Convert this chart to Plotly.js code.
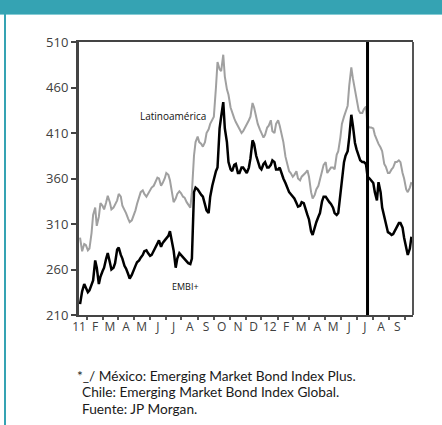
<!DOCTYPE html>
<html>
<head>
<meta charset="utf-8">
<script src="https://cdn.plot.ly/plotly-3.0.1.min.js"></script>
<style>
  html, body { margin: 0; padding: 0; background: #fff; overflow: hidden; }
  #chart { position: absolute; left: 0; top: 0; width: 442px; height: 425px; }
  .band { position: absolute; left: 0; top: 0; width: 442px; height: 14px; background: #35a3b3; border-bottom: 1px solid #86ccd5; z-index: 2; }
  .rule { position: absolute; left: 4px; top: 14px; width: 2px; height: 411px; background: #35a3b3; z-index: 2; }
</style>
</head>
<body>
<div id="chart"></div>
<div class="band"></div>
<div class="rule"></div>
<script>
// Twice-weekly observations (Tuesday and Friday), spreads in basis points
const dates = [
  "2011-01-03","2011-01-07","2011-01-11","2011-01-14","2011-01-18","2011-01-21","2011-01-25","2011-01-28",
  "2011-02-01","2011-02-04","2011-02-08","2011-02-11","2011-02-15","2011-02-18","2011-02-22","2011-02-25",
  "2011-03-01","2011-03-04","2011-03-08","2011-03-11","2011-03-15","2011-03-18","2011-03-22","2011-03-25","2011-03-29",
  "2011-04-01","2011-04-05","2011-04-08","2011-04-12","2011-04-15","2011-04-19","2011-04-22","2011-04-26","2011-04-29",
  "2011-05-03","2011-05-06","2011-05-10","2011-05-13","2011-05-17","2011-05-20","2011-05-24","2011-05-27","2011-05-31",
  "2011-06-03","2011-06-07","2011-06-10","2011-06-14","2011-06-17","2011-06-21","2011-06-24","2011-06-28",
  "2011-07-01","2011-07-05","2011-07-08","2011-07-12","2011-07-15","2011-07-19","2011-07-22","2011-07-26","2011-07-29",
  "2011-08-02","2011-08-05","2011-08-09","2011-08-12","2011-08-16","2011-08-19","2011-08-23","2011-08-26","2011-08-30",
  "2011-09-02","2011-09-06","2011-09-09","2011-09-13","2011-09-16","2011-09-20","2011-09-23","2011-09-27","2011-09-30",
  "2011-10-04","2011-10-07","2011-10-11","2011-10-14","2011-10-18","2011-10-21","2011-10-25","2011-10-28",
  "2011-11-01","2011-11-04","2011-11-08","2011-11-11","2011-11-15","2011-11-18","2011-11-22","2011-11-25","2011-11-29",
  "2011-12-02","2011-12-06","2011-12-09","2011-12-13","2011-12-16","2011-12-20","2011-12-23","2011-12-27","2011-12-30",
  "2012-01-03","2012-01-06","2012-01-10","2012-01-13","2012-01-17","2012-01-20","2012-01-24","2012-01-27","2012-01-31",
  "2012-02-03","2012-02-07","2012-02-10","2012-02-14","2012-02-17","2012-02-21","2012-02-24","2012-02-28",
  "2012-03-02","2012-03-06","2012-03-09","2012-03-13","2012-03-16","2012-03-20","2012-03-23","2012-03-27","2012-03-30",
  "2012-04-03","2012-04-06","2012-04-10","2012-04-13","2012-04-17","2012-04-20","2012-04-24","2012-04-27",
  "2012-05-01","2012-05-04","2012-05-08","2012-05-11","2012-05-15","2012-05-18","2012-05-22","2012-05-25","2012-05-29",
  "2012-06-01","2012-06-05","2012-06-08","2012-06-12","2012-06-15","2012-06-19","2012-06-22","2012-06-26","2012-06-29",
  "2012-07-03","2012-07-06","2012-07-10","2012-07-13","2012-07-17","2012-07-20","2012-07-24","2012-07-27","2012-07-31",
  "2012-08-03","2012-08-07","2012-08-10","2012-08-14","2012-08-17","2012-08-21","2012-08-24","2012-08-28","2012-08-31",
  "2012-09-04","2012-09-07","2012-09-11","2012-09-14","2012-09-18","2012-09-21","2012-09-25","2012-09-28"
];

// EMBI+ (black)
const embi = [
  222,236,244,240,235,237,243,248,
  270,262,244,252,258,262,272,278,
  268,260,262,267,282,284,276,272,264,
  261,255,250,254,259,264,268,270,273,
  276,280,281,278,275,276,281,284,290,
  292,285,289,292,294,297,302,290,
  281,262,272,278,276,273,271,268,267,
  266,272,345,350,348,345,342,340,330,
  325,322,340,352,360,368,372,415,428,
  444,415,400,378,370,368,375,376,
  366,366,372,372,368,366,372,382,402,
  398,385,378,372,370,376,378,372,372,
  375,380,378,370,370,372,364,360,355,
  350,345,343,340,338,333,329,330,
  334,333,326,320,315,302,298,308,312,
  318,322,335,340,340,337,334,332,
  328,322,320,322,344,360,378,385,390,
  405,430,418,399,392,385,380,378,378,
  376,362,360,358,355,345,336,356,345,
  328,318,312,301,300,298,299,303,306,
  311,311,306,295,285,276,283,296
];

// Latinoamérica (grey)
const latam = [
  295,280,288,287,281,283,300,320,
  328,308,318,333,330,326,334,341,
  334,326,328,332,336,343,340,330,326,
  322,316,312,314,318,325,332,340,345,
  347,343,340,343,348,350,352,356,361,
  360,352,355,360,366,364,358,346,
  334,338,343,346,344,340,339,334,331,
  328,345,385,400,406,400,398,395,400,
  410,414,420,425,428,460,488,480,478,
  496,472,458,452,438,432,426,422,
  418,414,410,412,416,420,424,428,443,
  438,428,420,414,410,405,408,416,418,
  424,412,410,420,424,418,408,400,384,
  376,368,366,362,364,368,360,358,
  362,364,366,369,362,345,338,342,348,
  352,358,368,375,378,366,370,372,
  372,370,386,390,405,420,428,434,440,
  462,482,470,457,448,435,432,432,436,
  439,418,416,416,415,408,402,398,394,
  390,376,373,366,366,370,372,378,378,
  380,378,366,360,348,345,350,356
];

const monthStarts = [
  "2011-01-01","2011-02-01","2011-03-01","2011-04-01","2011-05-01","2011-06-01",
  "2011-07-01","2011-08-01","2011-09-01","2011-10-01","2011-11-01","2011-12-01",
  "2012-01-01","2012-02-01","2012-03-01","2012-04-01","2012-05-01","2012-06-01",
  "2012-07-01","2012-08-01","2012-09-01"
];
const monthLabels = ["11","F","M","A","M","J","J","A","S","O","N","D",
                     "12","F","M","A","M","J","J","A","S"];
const yTicks = [210, 260, 310, 360, 410, 460, 510];
const xStart = "2011-01-01", xEnd = "2012-10-01";
const markDate = "2012-07-06";

// tick marks sit halfway between the month labels
const bounds = monthStarts.concat([xEnd]).map(d => new Date(d + "T00:00:00Z").getTime());
const midMonths = [];
for (let i = 0; i < bounds.length - 1; i++) {
  midMonths.push(new Date((bounds[i] + bounds[i + 1]) / 2).toISOString().slice(0, 10));
}

const traces = [
  { x: dates, y: latam, type: "scatter", mode: "lines", name: "Latinoamérica",
    line: { color: "#a0a0a0", width: 2 }, hoverinfo: "skip" },
  { x: dates, y: embi, type: "scatter", mode: "lines", name: "EMBI+",
    line: { color: "#000000", width: 2.5 }, hoverinfo: "skip" }
];

const noteFont = { family: "Lato", size: 13.7, color: "#1a1a1a" };

const layout = {
  width: 442, height: 425,
  margin: { l: 79, r: 29, t: 42, b: 110 },
  paper_bgcolor: "#ffffff", plot_bgcolor: "#ffffff",
  showlegend: false,
  font: { family: "Open Sans", color: "#404040" },
  xaxis: {
    type: "date", range: [xStart, xEnd],
    tickmode: "array", tickvals: monthStarts, ticktext: monthLabels,
    ticks: "", showgrid: false, zeroline: false,
    showline: true, linecolor: "#444", linewidth: 2, mirror: true,
    tickfont: { family: "Open Sans", size: 12, color: "#404040" },
    minor: { tickmode: "array", tickvals: midMonths, ticks: "outside",
             ticklen: 3, tickwidth: 2, tickcolor: "#555", showgrid: false }
  },
  yaxis: {
    range: [210, 510], tickmode: "array", tickvals: yTicks,
    ticks: "outside", ticklen: 5, tickwidth: 2, tickcolor: "#444",
    showline: true, linecolor: "#444", linewidth: 3,
    showgrid: false, zeroline: false,
    tickfont: { family: "Open Sans", size: 13, color: "#404040" }
  },
  shapes: [
    { type: "line", xref: "paper", yref: "paper", x0: 1, x1: 1, y0: 0, y1: 1,
      line: { color: "#555", width: 2 } },
    { type: "line", xref: "x", yref: "paper", x0: markDate, x1: markDate, y0: 0, y1: 1,
      line: { color: "#000", width: 3 } }
  ],
  annotations: [
    { text: "Latinoamérica", xref: "paper", yref: "paper", x: 0.386, y: 0.729,
      xanchor: "right", yanchor: "middle", showarrow: false,
      font: { family: "Open Sans", size: 10, color: "#111" } },
    { text: "EMBI+", xref: "paper", yref: "paper", x: 0.319, y: 0.103,
      xanchor: "center", yanchor: "middle", showarrow: false,
      font: { family: "Open Sans", size: 9, color: "#111" } },
    { text: "*_/ México: Emerging Market Bond Index Plus.", xref: "paper", yref: "paper",
      x: -0.012, y: -0.220, xanchor: "left", yanchor: "middle", showarrow: false, font: noteFont },
    { text: "Chile: Emerging Market Bond Index Global.", xref: "paper", yref: "paper",
      x: 0.003, y: -0.282, xanchor: "left", yanchor: "middle", showarrow: false, font: noteFont },
    { text: "Fuente: JP Morgan.", xref: "paper", yref: "paper",
      x: 0.003, y: -0.341, xanchor: "left", yanchor: "middle", showarrow: false, font: noteFont }
  ]
};

Plotly.newPlot("chart", traces, layout, { displayModeBar: false, staticPlot: true });
</script>
</body>
</html>
